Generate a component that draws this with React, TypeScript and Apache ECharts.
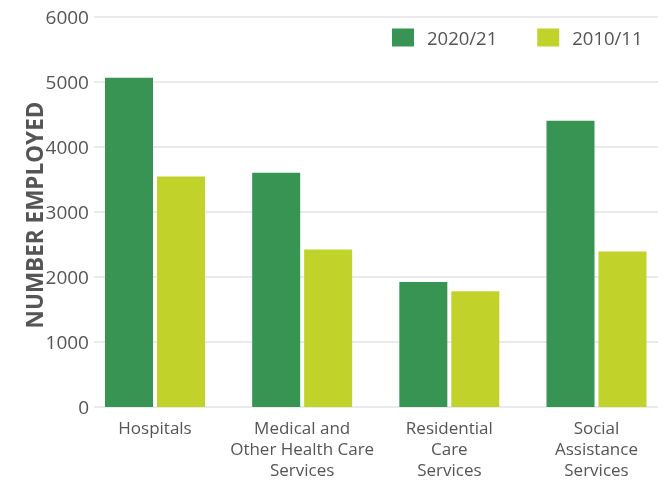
import React, { useEffect, useRef } from "react";
import * as echarts from "echarts";

const categories = [
  "Hospitals",
  "Medical and\nOther Health Care\nServices",
  "Residential\nCare\nServices",
  "Social\nAssistance\nServices",
];
const series2020 = [5060, 3600, 1920, 4400];
const series2010 = [3540, 2420, 1780, 2390];
const seriesNames = ["2020/21", "2010/11"];
const yTicks = [0, 1000, 2000, 3000, 4000, 5000, 6000];

const FONT = "'Open Sans', sans-serif";
const TEXT = "#555555";

export default function App() {
  const ref = useRef<HTMLDivElement>(null);
  useEffect(() => {
    if (!ref.current) return;
    const chart = echarts.init(ref.current, undefined, { renderer: "svg" });
    const yMin = yTicks[0];
    const yMax = yTicks[yTicks.length - 1];
    const idx = categories.map((_, i) => i);
    chart.setOption({
      animation: false,
      textStyle: { fontFamily: FONT },
      legend: {
        data: seriesNames,
        top: 28,
        left: 392,
        padding: 0,
        itemWidth: 22,
        itemHeight: 18,
        itemGap: 40,
        icon: "rect",
        textStyle: {
          fontSize: 18.5,
          color: TEXT,
          fontFamily: FONT,
          padding: [0, 0, 0, 8],
        },
      },
      grid: { left: 94, right: 6, top: 16.5, bottom: 71.7 },
      xAxis: {
        type: "value",
        min: -0.4145,
        max: 3.418,
        axisLine: { show: false },
        axisTick: { show: false },
        splitLine: { show: false },
        axisLabel: {
          customValues: idx,
          formatter: (v: number) => categories[Math.round(v)] ?? "",
          fontSize: 17,
          color: TEXT,
          lineHeight: 21,
          margin: 10,
          fontFamily: FONT,
        },
      },
      yAxis: {
        type: "value",
        min: yMin,
        max: yMax,
        interval: 1000,
        axisLine: { show: false },
        axisTick: { show: false },
        axisLabel: {
          fontSize: 19,
          color: TEXT,
          margin: 5,
          fontFamily: FONT,
          formatter: (v: number) => String(v),
        },
        splitLine: { lineStyle: { color: "#e3e3e3", width: 1.5 } },
      },
      series: [
        {
          name: seriesNames[0],
          type: "bar",
          data: series2020.map((v, i) => [i, v]),
          barWidth: 48,
          barGap: "8.3%",
          itemStyle: { color: "#379452" },
        },
        {
          name: seriesNames[1],
          type: "bar",
          data: series2010.map((v, i) => [i, v]),
          barWidth: 48,
          barGap: "8.3%",
          itemStyle: { color: "#c1d22b" },
        },
      ],
      graphic: [
        {
          type: "text",
          x: 34,
          y: 215,
          rotation: Math.PI / 2,
          style: {
            text: "NUMBER EMPLOYED",
            fontSize: 22.5,
            fontWeight: "bold",
            fontFamily: FONT,
            fill: TEXT,
            align: "center",
            verticalAlign: "middle",
          },
        },
      ],
    });
    return () => chart.dispose();
  }, []);
  return (
    <div
      ref={ref}
      style={{ position: "fixed", left: 0, top: 0, width: 664, height: 480 }}
    />
  );
}
